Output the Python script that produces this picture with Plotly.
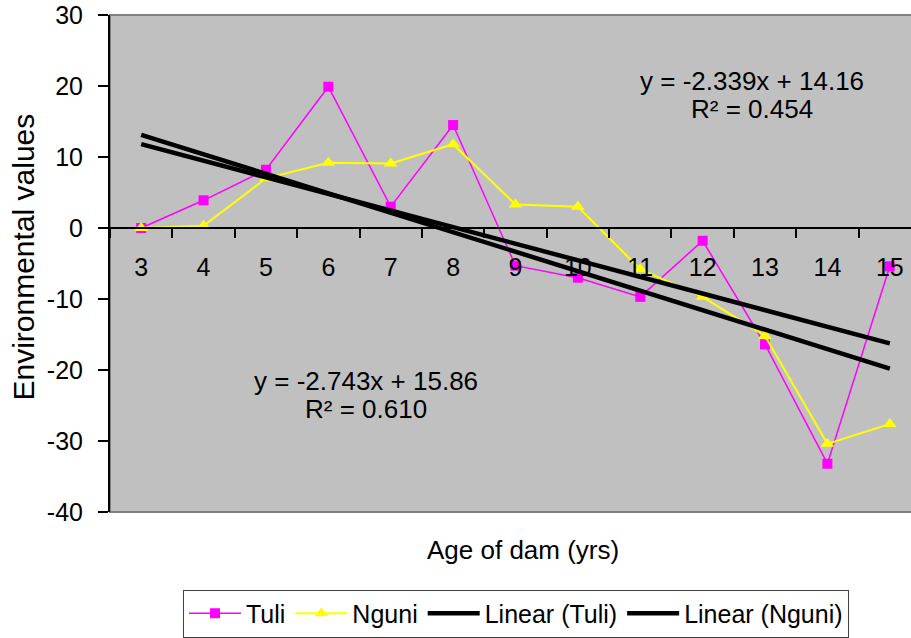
import plotly.graph_objects as go

# ---- data ----
ages = ["3", "4", "5", "6", "7", "8", "9", "10", "11", "12", "13", "14", "15"]
tuli = [0.0, 3.9, 8.2, 19.9, 3.0, 14.5, -5.3, -7.0, -9.7, -1.8, -16.4, -33.2, -5.4]
nguni = [0.0, 0.3, 7.0, 9.2, 9.1, 11.8, 3.3, 3.0, -5.8, -9.7, -15.2, -30.4, -27.6]
tuli_fit = {"slope": -2.339, "intercept": 14.16, "r2": 0.454}
nguni_fit = {"slope": -2.743, "intercept": 15.86, "r2": 0.610}
y_ticks = [-40, -30, -20, -10, 0, 10, 20, 30]
y_ticktext = ["-40", "-30", "-20", "-10", "0", "10", "20", "30"]

tuli_trend = [tuli_fit["slope"] * (i + 1) + tuli_fit["intercept"] for i in range(len(ages))]
nguni_trend = [nguni_fit["slope"] * (i + 1) + nguni_fit["intercept"] for i in range(len(ages))]

FONT = "Liberation Sans, Arial, sans-serif"

fig = go.Figure()
fig.add_trace(go.Scatter(
    x=ages, y=tuli, name="Tuli", mode="lines+markers",
    line=dict(color="#FF00FF", width=1.5),
    marker=dict(symbol="square", size=10, color="#FF00FF"),
))
fig.add_trace(go.Scatter(
    x=ages, y=nguni, name="Nguni", mode="lines+markers",
    line=dict(color="#FFFF00", width=2),
    marker=dict(symbol="triangle-up", size=12, color="#FFFF00"),
))
fig.add_trace(go.Scatter(
    x=ages, y=tuli_trend, name="Linear (Tuli)", mode="lines",
    line=dict(color="#000000", width=4.5),
))
fig.add_trace(go.Scatter(
    x=ages, y=nguni_trend, name="Linear (Nguni)", mode="lines",
    line=dict(color="#000000", width=4.5),
))

fig.update_layout(
    width=911, height=638,
    margin=dict(l=110, r=0, t=15, b=123),
    paper_bgcolor="white",
    plot_bgcolor="#C0C0C0",
    font=dict(family=FONT, size=25, color="#000000"),
    showlegend=True,
    legend=dict(
        orientation="h", x=(183 - 110) / 801, y=(515 - 593) / 500,
        xanchor="left", yanchor="top",
        bgcolor="white", bordercolor="#404040", borderwidth=1,
        font=dict(family=FONT, size=25, color="#000000"),
        itemwidth=52, tracegroupgap=0,
    ),
    xaxis=dict(
        type="category", range=[-0.5, 12.34],
        anchor="free", position=40 / 70,
        showline=True, linecolor="#000000", linewidth=1.5,
        ticks="outside", ticklen=9, tickwidth=1.5, tickcolor="#000000",
        tickson="boundaries", showgrid=False, zeroline=False,
        tickfont=dict(size=25), ticklabelstandoff=17,
    ),
    yaxis=dict(
        range=[-40, 30], tickvals=y_ticks, ticktext=y_ticktext,
        showline=True, linecolor="#000000", linewidth=2,
        ticks="outside", ticklen=10, tickwidth=1.5, tickcolor="#000000",
        showgrid=False, zeroline=False,
        tickfont=dict(size=25), ticklabelstandoff=10,
    ),
    shapes=[dict(
        type="rect", xref="paper", yref="paper", x0=0, x1=1.02, y0=0, y1=1,
        line=dict(color="#808080", width=2), layer="below",
    )],
)

ann = [
    dict(text="y = -2.339x + 14.16", x=9.79, y=20.66),
    dict(text="R² = 0.454", x=9.79, y=16.74),
    dict(text="y = -2.743x + 15.86", x=3.6, y=-21.5),
    dict(text="R² = 0.610", x=3.6, y=-25.56),
]
for a in ann:
    fig.add_annotation(text=a["text"], x=a["x"], y=a["y"], xref="x", yref="y",
                       showarrow=False, xanchor="center", yanchor="middle",
                       font=dict(size=26))

fig.add_annotation(text="Age of dam (yrs)", xref="paper", yref="paper",
                   x=(523 - 110) / 801, y=(515 - 553) / 500,
                   xanchor="center", yanchor="middle", showarrow=False,
                   font=dict(size=26))
fig.add_annotation(text="Environmental values", xref="paper", yref="paper",
                   x=(24 - 110) / 801, y=(515 - 259) / 500, textangle=-90,
                   xanchor="center", yanchor="middle", showarrow=False,
                   font=dict(size=30))

fig.write_html("out.html", config={"displayModeBar": False},
               post_script="document.body.style.margin='0';")
